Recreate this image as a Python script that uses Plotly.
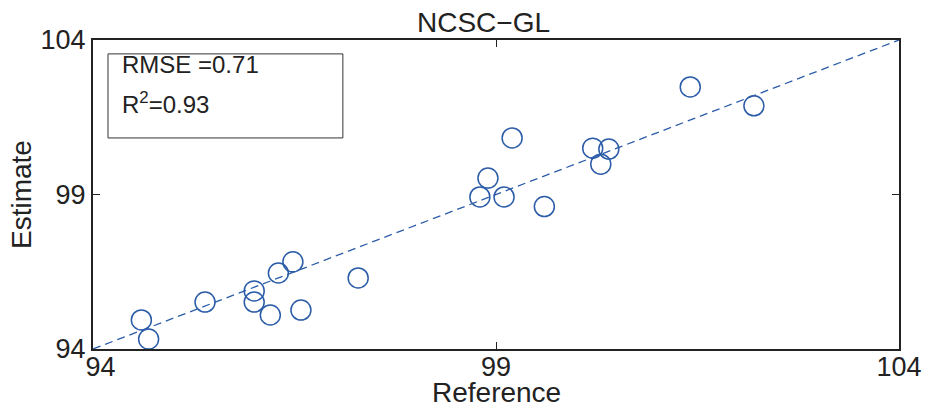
import plotly.graph_objects as go

# Data
reference = [94.60, 94.69, 95.39, 96.00, 96.00, 96.20, 96.30, 96.48, 96.58, 97.29,
             98.80, 98.90, 99.10, 99.20, 99.60, 100.20, 100.40, 100.30, 101.41, 102.20]
estimate = [94.94, 94.32, 95.52, 95.88, 95.52, 95.10, 96.46, 96.82, 95.26, 96.30,
            98.92, 99.53, 98.92, 100.83, 98.61, 100.50, 100.47, 99.98, 102.48, 101.87]
identity_line = [94, 104]
tick_vals = [94, 99, 104]
tick_text = ["94", "99", "104"]
title_text = "NCSC\u2212GL"
x_title = "Reference"
y_title = "Estimate"
stats_lines = ["RMSE =0.71", "R<sup>2</sup>=0.93"]

FONT = "Liberation Sans, Arial, sans-serif"
BLUE = "#2b5ca8"
DARK = "#222222"

# nudge the first x tick label right (as in the reference) so it clears the y label
x_tick_text = ["\u00a0\u00a0" + tick_text[0]] + tick_text[1:]

fig = go.Figure()
fig.add_trace(go.Scatter(x=identity_line, y=identity_line, mode="lines",
                         line=dict(color=BLUE, width=1.3, dash="8px,5px"),
                         hoverinfo="skip", showlegend=False))
fig.add_trace(go.Scatter(x=reference, y=estimate, mode="markers",
                         marker=dict(symbol="circle-open", size=20, color=BLUE,
                                     line=dict(width=1.5, color=BLUE)),
                         showlegend=False))

axis_common = dict(range=[94, 104], tickvals=tick_vals,
                   showgrid=False, zeroline=False, showline=True, mirror="ticks",
                   linecolor=DARK, linewidth=2, ticks="inside", ticklen=7,
                   tickcolor=DARK, tickwidth=1, automargin=False,
                   tickfont=dict(family=FONT, size=27, color=DARK))
fig.update_xaxes(**axis_common, ticktext=x_tick_text, ticklabelstandoff=-7)
fig.update_yaxes(**axis_common, ticktext=tick_text)

fig.add_shape(type="rect", xref="paper", yref="paper",
              x0=0.0186, x1=0.310, y0=0.683, y1=0.955,
              line=dict(color="#333333", width=1), fillcolor="white", layer="above")
fig.add_annotation(text=stats_lines[0], xref="paper", yref="paper", x=0.0335, y=0.922,
                   xanchor="left", yanchor="middle", showarrow=False,
                   font=dict(family=FONT, size=24, color=DARK))
fig.add_annotation(text=stats_lines[1], xref="paper", yref="paper", x=0.0335, y=0.796,
                   xanchor="left", yanchor="middle", showarrow=False,
                   font=dict(family=FONT, size=24, color=DARK))

fig.add_annotation(text=title_text, xref="paper", yref="paper", x=0.485, y=1.0,
                   xanchor="center", yanchor="bottom", yshift=0, showarrow=False,
                   font=dict(family=FONT, size=28, color=DARK))
fig.add_annotation(text=x_title, xref="paper", yref="paper", x=0.5, y=0,
                   xanchor="center", yanchor="top", yshift=-26, showarrow=False,
                   font=dict(family=FONT, size=28, color=DARK))
fig.add_annotation(text=y_title, xref="paper", yref="paper", x=0, y=0.5,
                   xanchor="right", yanchor="middle", xshift=-54, textangle=-90,
                   showarrow=False, font=dict(family=FONT, size=28, color=DARK))

fig.update_layout(width=928, height=410,
                  margin=dict(l=93, r=29, t=40, b=61),
                  plot_bgcolor="white", paper_bgcolor="white")

fig.write_html("out.html")
